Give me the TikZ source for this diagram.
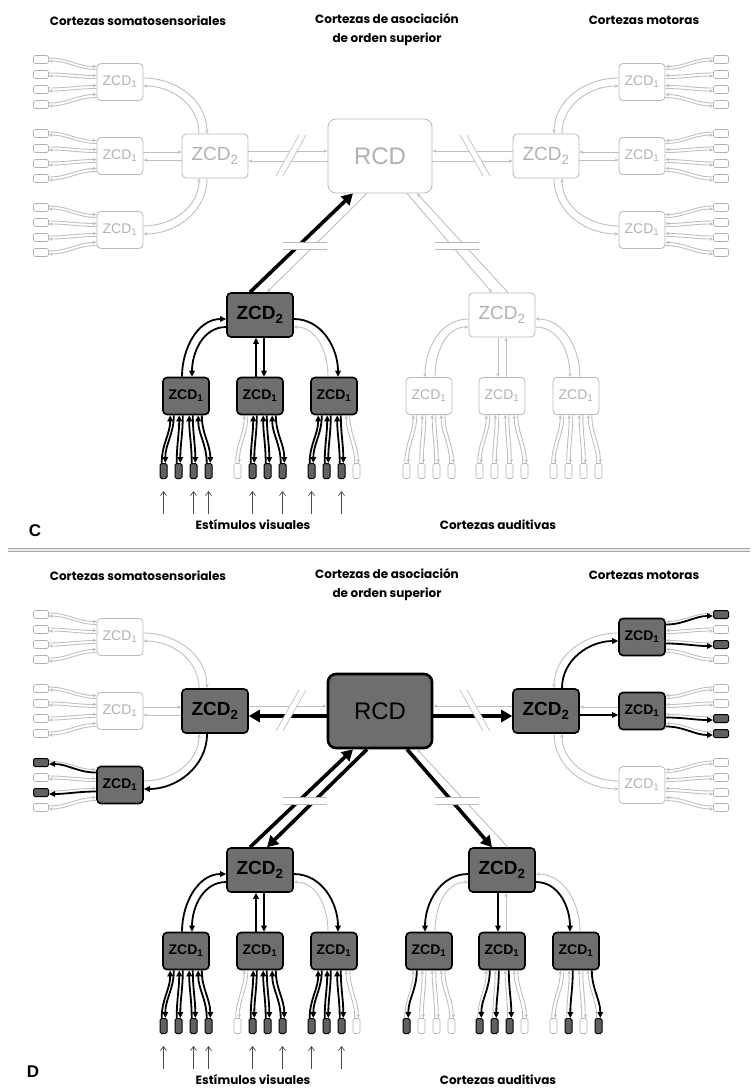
\documentclass[tikz,border=0pt]{standalone}
\usepackage{fontspec}
\setmainfont{Liberation Sans}
\newfontfamily\comic{Poppins}
\usetikzlibrary{arrows.meta,calc}

\makeatletter
% #2 if #1 is in \onlist, else #3
\newcommand\ifon[3]{%
  \edef\on@tmp{\noexpand\in@{,#1,}{,\onlist,}}\on@tmp
  \ifin@ #2\else #3\fi}
\makeatother
\let\zb\relax
\def\onlist{}

\tikzset{
  if on/.code 2 args={\ifon{#1}{\pgfkeysalso{#2}}{}},
  title/.style={font=\comic\bfseries\fontsize{12}{19}\selectfont, align=center, inner sep=0pt},
  letter/.style={font=\bfseries\fontsize{17}{17}\selectfont, inner sep=0pt},
  zone/.style={rounded corners=4pt, draw=gray!55, line width=0.8pt, fill=white, text=gray!60, inner sep=0pt},
  zone on/.style={draw=black, line width=1.6pt, fill=black!57, text=black, /utils/exec=\let\zb\bfseries},
  rcd on/.style={draw=black, line width=2.6pt, fill=black!57, text=black},
  zcdone/.style={zone, minimum width=46pt, minimum height=37pt, font=\zb\fontsize{14}{14}\selectfont},
  zcdtwo/.style={zone, minimum width=66pt, minimum height=44pt, font=\zb\fontsize{19}{19}\selectfont},
  rcdbox/.style={zone, rounded corners=8pt, minimum width=104pt, minimum height=74pt, font=\fontsize{24}{24}\selectfont},
  termh/.style={draw=gray!60, line width=0.6pt, rounded corners=1.5pt, fill=white, minimum width=15pt, minimum height=8pt, inner sep=0pt},
  termv/.style={termh, minimum width=7pt, minimum height=15pt},
  term on/.style={draw=black, line width=1pt, fill=black!62},
  link/.style={draw=gray!50, line width=0.9pt, -{Stealth[length=4pt,width=3.5pt]}},
  link on/.style={draw=black, line width=1.8pt, -{Triangle[length=6pt,width=5.5pt]}},
  big on/.style={draw=black, line width=3.6pt, -{Triangle[length=11pt,width=12pt]}},
  cut/.style={draw=gray!55, line width=0.6pt},
  stim/.style={draw=black!70, line width=0.7pt, -{Straight Barb[length=4pt,width=6pt]}},
  sep/.style={draw=gray!70, line width=0.7pt, double=gray!15, double distance=2pt}
}

% one panel: #1 prefix of the names, #2 vertical offset
\newcommand\panel[2]{%
  \node[title] (#1tso) at (138,#2+21) {Cortezas somatosensoriales};
  \node[title] (#1tas) at (387,#2+30) {Cortezas de asociación\\de orden superior};
  \node[title] (#1tmo) at (644,#2+20) {Cortezas motoras};
  \node[title] (#1tvi) at (253,#2+525) {Estímulos visuales};
  \node[title] (#1tau) at (498,#2+525) {Cortezas auditivas};
  % zonas
  \node[rcdbox, if on={rcd}{rcd on}] (#1rcd) at (380,#2+156) {RCD};
  \node[zcdtwo, if on={zs}{zone on}] (#1zs) at (215,#2+156) {ZCD\textsubscript{2}};
  \node[zcdtwo, if on={zm}{zone on}] (#1zm) at (546,#2+156) {ZCD\textsubscript{2}};
  \node[zcdtwo, if on={zv}{zone on}] (#1zv) at (260,#2+315) {ZCD\textsubscript{2}};
  \node[zcdtwo, if on={za}{zone on}] (#1za) at (502,#2+315) {ZCD\textsubscript{2}};
  \foreach \i/\y in {1/82,2/156,3/230}{
    \node[zcdone, if on={s\i}{zone on}] (#1s\i) at (120,#2+\y) {ZCD\textsubscript{1}};
    \node[zcdone, if on={m\i}{zone on}] (#1m\i) at (642,#2+\y) {ZCD\textsubscript{1}};
  }
  \foreach \i/\x in {1/186,2/260,3/334}
    \node[zcdone, if on={v\i}{zone on}] (#1v\i) at (\x,#2+396) {ZCD\textsubscript{1}};
  \foreach \i/\x in {1/429,2/502,3/576}
    \node[zcdone, if on={a\i}{zone on}] (#1a\i) at (\x,#2+396) {ZCD\textsubscript{1}};
  % terminales laterales
  \foreach \g/\side/\ta/\za/\ot/\oz in {s/-1/east/west/0/180, m/1/west/east/180/0}
    \foreach \i in {1,2,3}
      \foreach \k/\dy/\ey in {1/-22.5/-14,2/-7.5/-5,3/7.5/5,4/22.5/14}{
        \node[termh, if on={\g\i-\k}{term on}] (#1\g\i t\k) at ($(#1\g\i)+(\side*79,\dy)$) {};
        \draw[link] ($(#1\g\i t\k.\ta)+(0,-1.5)$) to[out=\ot,in=\oz] ($(#1\g\i.\za)+(0,\ey-1.5)$);
        \draw[link, if on={\g\i-\k}{link on}] ($(#1\g\i.\za)+(0,\ey+1.5)$) to[out=\oz,in=\ot] ($(#1\g\i t\k.\ta)+(0,1.5)$);
      }
  % terminales de abajo
  \foreach \i in {1,2,3}
    \foreach \k/\dx/\ex in {1/-22.5/-14,2/-7.5/-5,3/7.5/5,4/22.5/14}{
      \node[termv, if on={v\i-\k}{term on}] (#1v\i t\k) at ($(#1v\i)+(\dx,75)$) {};
      \draw[link, if on={v\i-\k}{link on}] ($(#1v\i t\k.north)+(-1.8,0)$) to[out=90,in=-90] ($(#1v\i.south)+(\ex-1.8,0)$);
      \draw[link, if on={v\i-\k}{link on}] ($(#1v\i.south)+(\ex+1.8,0)$) to[out=-90,in=90] ($(#1v\i t\k.north)+(1.8,0)$);
      \node[termv, if on={a\i-\k}{term on}] (#1a\i t\k) at ($(#1a\i)+(\dx,75)$) {};
      \draw[link] ($(#1a\i t\k.north)+(-1.8,0)$) to[out=90,in=-90] ($(#1a\i.south)+(\ex-1.8,0)$);
      \draw[link, if on={a\i-\k}{link on}] ($(#1a\i.south)+(\ex+1.8,0)$) to[out=-90,in=90] ($(#1a\i t\k.north)+(1.8,0)$);
    }
  \foreach \i/\k in {1/1,1/3,1/4,2/2,2/4,3/1,3/3}
    \draw[stim] ($(#1v\i t\k.south)+(0,35)$) -- ($(#1v\i t\k.south)+(0,12)$);
  % ZCD1 -- ZCD2
  \draw[link] ($(#1s1.east)+(0,-4)$) to[out=0,in=90] ($(#1zs.north)+(-8,0)$);
  \draw[link, if on={s1-e}{link on}] ($(#1zs.north)+(-16,0)$) to[out=90,in=0] ($(#1s1.east)+(0,4)$);
  \draw[link] ($(#1s2.east)+(0,-4)$) -- ($(#1zs.west)+(0,-4)$);
  \draw[link, if on={s2-e}{link on}] ($(#1zs.west)+(0,4)$) -- ($(#1s2.east)+(0,4)$);
  \draw[link] ($(#1s3.east)+(0,-4)$) to[out=0,in=-90] ($(#1zs.south)+(-16,0)$);
  \draw[link, if on={s3-e}{link on}] ($(#1zs.south)+(-8,0)$) to[out=-90,in=0] ($(#1s3.east)+(0,4)$);
  \draw[link] ($(#1m1.west)+(0,-4)$) to[out=180,in=90] ($(#1zm.north)+(8,0)$);
  \draw[link, if on={m1-e}{link on}] ($(#1zm.north)+(16,0)$) to[out=90,in=180] ($(#1m1.west)+(0,4)$);
  \draw[link] ($(#1m2.west)+(0,-4)$) -- ($(#1zm.east)+(0,-4)$);
  \draw[link, if on={m2-e}{link on}] ($(#1zm.east)+(0,4)$) -- ($(#1m2.west)+(0,4)$);
  \draw[link] ($(#1m3.west)+(0,-4)$) to[out=180,in=-90] ($(#1zm.south)+(16,0)$);
  \draw[link, if on={m3-e}{link on}] ($(#1zm.south)+(8,0)$) to[out=-90,in=180] ($(#1m3.west)+(0,4)$);
  \draw[link, if on={v1-a}{link on}] ($(#1v1.north)+(-4,0)$) to[out=90,in=180] ($(#1zv.west)+(0,4)$);
  \draw[link, if on={v1-e}{link on}] ($(#1zv.west)+(0,12)$) to[out=180,in=90] ($(#1v1.north)+(6,0)$);
  \draw[link, if on={v2-a}{link on}] ($(#1v2.north)+(-4,0)$) -- ($(#1zv.south)+(-4,0)$);
  \draw[link, if on={v2-e}{link on}] ($(#1zv.south)+(4,0)$) -- ($(#1v2.north)+(4,0)$);
  \draw[link, if on={v3-a}{link on}] ($(#1v3.north)+(-6,0)$) to[out=90,in=0] ($(#1zv.east)+(0,12)$);
  \draw[link, if on={v3-e}{link on}] ($(#1zv.east)+(0,4)$) to[out=0,in=90] ($(#1v3.north)+(4,0)$);
  \draw[link, if on={a1-e}{link on}] ($(#1za.west)+(0,4)$) to[out=180,in=90] ($(#1a1.north)+(-4,0)$);
  \draw[link] ($(#1a1.north)+(6,0)$) to[out=90,in=180] ($(#1za.west)+(0,12)$);
  \draw[link, if on={a2-e}{link on}] ($(#1za.south)+(-4,0)$) -- ($(#1a2.north)+(-4,0)$);
  \draw[link] ($(#1a2.north)+(4,0)$) -- ($(#1za.south)+(4,0)$);
  \draw[link] ($(#1a3.north)+(4,0)$) to[out=90,in=0] ($(#1za.east)+(0,4)$);
  \draw[link, if on={a3-e}{link on}] ($(#1za.east)+(0,12)$) to[out=0,in=90] ($(#1a3.north)+(-6,0)$);
  % ZCD2 -- RCD
  \draw[link, if on={rs-a}{big on}] ($(#1zs.east)+(0,-5)$) -- ($(#1rcd.west)+(0,-5)$);
  \draw[link, if on={rs-e}{big on}] ($(#1rcd.west)+(0,5)$) -- ($(#1zs.east)+(0,5)$);
  \draw[link, if on={rm-a}{big on}] ($(#1zm.west)+(0,-5)$) -- ($(#1rcd.east)+(0,-5)$);
  \draw[link, if on={rm-e}{big on}] ($(#1rcd.east)+(0,5)$) -- ($(#1zm.west)+(0,5)$);
  \draw[link, if on={rv-a}{big on}] ($(#1zv.north)+(-10,0)$) -- ($(#1rcd.south)+(-27,0)$);
  \draw[link, if on={rv-e}{big on}] ($(#1rcd.south)+(-13,0)$) -- ($(#1zv.north)+(7,0)$);
  \draw[link, if on={ra-e}{big on}] ($(#1rcd.south)+(27,0)$) -- ($(#1za.north)+(-10,0)$);
  \draw[link] ($(#1za.north)+(6,0)$) -- ($(#1rcd.south)+(37,0)$);
  % cortes
  \fill[white] (276,#2+176) -- (299,#2+135) -- (306,#2+135) -- (283,#2+176) -- cycle;
  \draw[cut] (276,#2+176) -- (299,#2+135) (283,#2+176) -- (306,#2+135);
  \fill[white] (460,#2+135) -- (483,#2+176) -- (490,#2+176) -- (467,#2+135) -- cycle;
  \draw[cut] (460,#2+135) -- (483,#2+176) (467,#2+135) -- (490,#2+176);
  \foreach \x in {283,435}{
    \fill[white] (\x,#2+242) rectangle (\x+44,#2+249);
    \draw[cut] (\x,#2+242) -- ++(44,0) (\x,#2+249) -- ++(44,0);
  }
}

\begin{document}
\begin{tikzpicture}[x=1pt,y=-1pt]
  \useasboundingbox (0,0) rectangle (750,1089);
  % C
  \def\onlist{zv,v1,v2,v3,rv-a,v1-a,v1-e,v2-a,v2-e,v3-e,%
v1-1,v1-2,v1-3,v1-4,v2-2,v2-3,v2-4,v3-1,v3-2,v3-3}
  \panel{c}{0}
  \node[letter] (lc) at (35,531) {C};
  \draw[sep] (8,550) -- (750,550);
  % D
  \def\onlist{rcd,zs,zm,zv,za,s3,m1,m2,v1,v2,v3,a1,a2,a3,%
rs-e,rm-e,rv-a,rv-e,ra-e,s3-e,m1-e,m2-e,v1-a,v1-e,v2-a,v2-e,v3-e,a1-e,a2-e,a3-e,%
s3-1,s3-3,m1-1,m1-3,m2-3,m2-4,v1-1,v1-2,v1-3,v1-4,v2-2,v2-3,v2-4,v3-1,v3-2,v3-3,%
a1-1,a2-1,a2-2,a2-3,a3-2,a3-4}
  \panel{d}{555}
  \node[letter] (ld) at (33,1072) {D};
\end{tikzpicture}
\end{document}
